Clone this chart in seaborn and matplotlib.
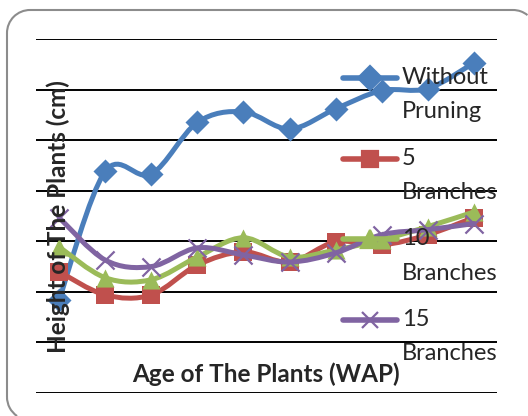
import numpy as np
import pandas as pd
import matplotlib
matplotlib.use("Agg")
import matplotlib.pyplot as plt
from matplotlib.path import Path
from matplotlib.patches import PathPatch
from matplotlib.lines import Line2D
from matplotlib.transforms import Affine2D
import seaborn as sns

# Data (weeks after planting vs plant height, cm)
weeks = [1, 2, 3, 4, 5, 6, 7, 8, 9, 10]
without_pruning = [18.4, 43.8, 43.3, 53.5, 55.6, 52.2, 56.2, 59.8, 60.2, 65.3]
branches_5 = [24.0, 19.4, 19.4, 25.3, 27.9, 25.9, 29.9, 29.3, 31.3, 34.7]
branches_10 = [28.9, 22.8, 22.4, 26.9, 30.7, 26.9, 28.3, 30.3, 32.9, 35.8]
branches_15 = [34.7, 26.3, 25.0, 28.7, 27.3, 25.9, 27.7, 31.3, 32.3, 33.5]

labels = ["Without\nPruning", "5\nBranches", "10\nBranches", "15\nBranches"]
colors = ["#4A7EBB", "#C0504D", "#9BBB59", "#8064A2"]
markers = ["D", "s", "^", "x"]
sizes = [150, 150, 170, 170]

df = pd.DataFrame({
    "week": weeks * 4,
    "height": without_pruning + branches_5 + branches_10 + branches_15,
    "series": sum([[l] * len(weeks) for l in labels], []),
})


def smooth_path(x, y):
    # Excel-style smoothed line: Catmull-Rom segments as cubic beziers
    pts = np.column_stack([x, y]).astype(float)
    p = np.vstack([pts[0], pts, pts[-1]])
    verts = [pts[0]]
    codes = [Path.MOVETO]
    for i in range(1, len(p) - 2):
        c1 = p[i] + (p[i + 1] - p[i - 1]) / 6
        c2 = p[i + 1] - (p[i + 2] - p[i]) / 6
        verts += [c1, c2, p[i + 1]]
        codes += [Path.CURVE4] * 3
    return Path(verts, codes)


def arc(cx, cy, r, t1, t2):
    return Path.arc(t1, t2).transformed(Affine2D().scale(r).translate(cx, cy))


sns.set_style("white")
plt.rcParams["font.family"] = ["Lato", "DejaVu Sans"]

fig = plt.figure(figsize=(5.28, 4.16), dpi=100)
ax = fig.add_axes([36 / 528, 1 - 393 / 416, 461 / 528, 354 / 416])

for i, (name, sub) in enumerate(df.groupby("series", sort=False)):
    ax.add_patch(PathPatch(smooth_path(sub["week"], sub["height"]), fill=False,
                           edgecolor=colors[i], lw=3.6, zorder=3 + i,
                           capstyle="round", joinstyle="round"))
    kw = dict(linewidth=1.6) if markers[i] == "x" else dict(linewidth=0)
    sns.scatterplot(data=sub, x="week", y="height", ax=ax, marker=markers[i],
                    color=colors[i], s=sizes[i], zorder=3 + i, legend=False, **kw)

ax.set_xlim(0.5, 10.5)
ax.set_ylim(0, 70)
ax.set_yticks(np.arange(0, 71, 10))
ax.grid(axis="y", color="black", lw=1.4)
ax.set_xticks([])
ax.tick_params(left=False, labelleft=False)
ax.set_xlabel("")
ax.set_ylabel("")
sns.despine(ax=ax, left=True, bottom=True)
ax.patch.set_alpha(0)

# axis titles sit inside the plot area like the Excel original
fig.text(58 / 528, 1 - 217 / 416, "Height of The Plants (cm)", rotation=90,
         ha="center", va="center", fontsize=17.5, fontweight="bold", zorder=10)
fig.text(266 / 528, 1 - 374 / 416, "Age of The Plants (WAP)",
         ha="center", va="center", fontsize=17.5, fontweight="bold", zorder=10)

# legend drawn by hand so the key sits on the first label line
for i, lab in enumerate(labels):
    yc = 1 - (78 + 80.5 * i) / 416
    fig.add_artist(Line2D([343 / 528, 397 / 528], [yc, yc], color=colors[i],
                          lw=4, solid_capstyle="round", zorder=11))
    fig.add_artist(Line2D([370 / 528], [yc], color=colors[i], lw=0,
                          marker=markers[i], ms=12 if markers[i] != "^" else 13,
                          mew=1.6, zorder=11))
    for j, line in enumerate(lab.split("\n")):
        fig.text(402 / 528, yc - j * 34 / 416, line, ha="left", va="center",
                 fontsize=17, zorder=12)

# rounded chart border (pixel coords); only the part inside the image is drawn
border = Path.make_compound_path(
    arc(30, 19, 23, 180, 235.7),
    Path([(7, 19), (7, 383)]),
    arc(30, 383, 23, 90, 180),
    Path([(30, 406), (513, 406)]),
    arc(513, 383, 23, 51, 90),
)
fig.add_artist(PathPatch(border, transform=None, fill=False,
                         edgecolor="#8C8C8C", lw=1.5, zorder=0))

fig.savefig("out.png", dpi=100)
